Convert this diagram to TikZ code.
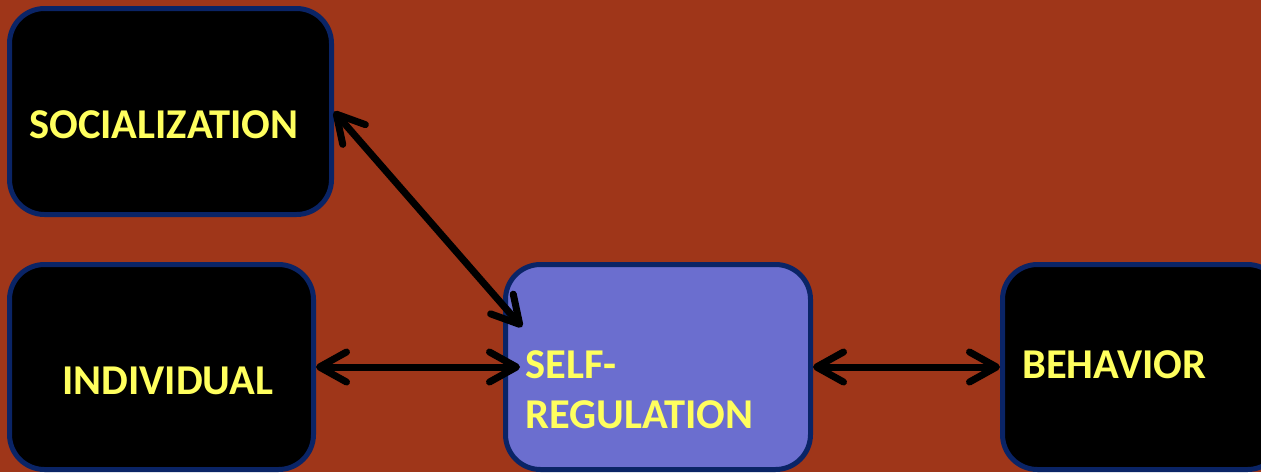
\documentclass[tikz,border=0pt]{standalone}
\usepackage{fontspec}
\setmainfont{Carlito}
\usetikzlibrary{arrows.meta,calc}
\definecolor{bgred}{HTML}{9F3619}
\definecolor{navy}{HTML}{0A2466}
\definecolor{lilac}{HTML}{6B6ECF}
\definecolor{txtyellow}{HTML}{FFFF5E}
\begin{document}
\begin{tikzpicture}[x=1pt,y=-1pt,
  box/.style={draw=navy, line width=5pt, rounded corners=35pt, fill=black, inner sep=0pt},
  lbl/.style={anchor=base west, inner sep=0pt, text=txtyellow, font=\fontsize{42.5pt}{50pt}\selectfont\bfseries},
  arr/.style={line width=7pt, >={Straight Barb[length=27pt,width=30pt,round]}, <->}]
\useasboundingbox (0,0) rectangle (1261,472);
\clip (0,0) rectangle (1261,472);
\fill[bgred] (0,0) rectangle (1261,472);
\node[box, minimum width=322pt, minimum height=206pt] (soc) at (170.5,111.5) {};
\node[box, minimum width=304pt, minimum height=205pt] (ind) at (161.5,367) {};
\node[box, fill=lilac, minimum width=305pt, minimum height=205pt] (sr) at (658,367) {};
\node[box, minimum width=280pt, minimum height=205pt] (beh) at (1142.5,367) {};
\node[lbl] (tsoc) at (29,138) {SOCIALIZATION};
\node[lbl] (tind) at (62,394) {INDIVIDUAL};
\node[lbl] (tsr1) at (525,378) {SELF-};
\node[lbl] (tsr2) at (525,428) {REGULATION};
\node[lbl] (tbeh) at (1022,378) {BEHAVIOR};
\draw[arr] (ind.east) -- ($(sr.west)+(17,0)$);
\draw[arr] (sr.east) -- (beh.west);
\draw[arr] (soc.east) -- ($(sr.north west)+(19,65)$);
\end{tikzpicture}
\end{document}
